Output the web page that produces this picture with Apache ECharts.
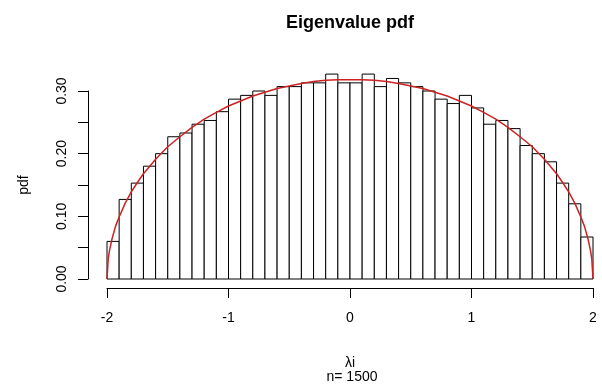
<!DOCTYPE html>
<html>
<head>
<meta charset="utf-8">
<script src="https://cdn.jsdelivr.net/npm/echarts@6/dist/echarts.min.js"></script>
<style>
  html, body { margin: 0; padding: 0; background: #fff; }
  #chart { width: 602px; height: 390px; }
</style>
</head>
<body>
<div id="chart"></div>
<script>
// histogram bin edges (width 0.1 from -2 to 2)
var breaks = [-2.0, -1.9, -1.8, -1.7, -1.6, -1.5, -1.4, -1.3, -1.2, -1.1,
  -1.0, -0.9, -0.8, -0.7, -0.6, -0.5, -0.4, -0.3, -0.2, -0.1,
  0.0, 0.1, 0.2, 0.3, 0.4, 0.5, 0.6, 0.7, 0.8, 0.9,
  1.0, 1.1, 1.2, 1.3, 1.4, 1.5, 1.6, 1.7, 1.8, 1.9, 2.0];

// bar heights (density)
var density = [0.060, 0.127, 0.153, 0.180, 0.200, 0.227, 0.233, 0.247, 0.253, 0.267,
  0.287, 0.293, 0.300, 0.293, 0.307, 0.307, 0.313, 0.313, 0.327, 0.313,
  0.313, 0.327, 0.307, 0.320, 0.313, 0.307, 0.300, 0.287, 0.280, 0.293,
  0.273, 0.247, 0.253, 0.240, 0.213, 0.200, 0.187, 0.153, 0.120, 0.067];

// red curve, points
var curveX = [-2.0, -1.99, -1.98, -1.96, -1.93, -1.9, -1.85, -1.8, -1.75, -1.7, -1.6, -1.5, -1.4, -1.3, -1.2, -1.1,
  -1.0, -0.9, -0.8, -0.7, -0.6, -0.5, -0.4, -0.3, -0.2, -0.1, 0.0,
  0.1, 0.2, 0.3, 0.4, 0.5, 0.6, 0.7, 0.8, 0.9, 1.0,
  1.1, 1.2, 1.3, 1.4, 1.5, 1.6, 1.7, 1.75, 1.8, 1.85, 1.9, 1.93, 1.96, 1.98, 1.99, 2.0];
var curveY = [0.000, 0.032, 0.045, 0.063, 0.084, 0.099, 0.121, 0.139, 0.154, 0.168, 0.191, 0.211, 0.227, 0.242, 0.255, 0.266,
  0.276, 0.284, 0.292, 0.298, 0.304, 0.308, 0.312, 0.315, 0.317, 0.318, 0.318,
  0.318, 0.317, 0.315, 0.312, 0.308, 0.304, 0.298, 0.292, 0.284, 0.276,
  0.266, 0.255, 0.242, 0.227, 0.211, 0.191, 0.168, 0.154, 0.139, 0.121, 0.099, 0.084, 0.063, 0.045, 0.032, 0.000];

var xTicks = [-2, -1, 0, 1, 2];

var font = 'Liberation Sans, Arial, Helvetica, sans-serif';

var bars = density.map(function (d, i) {
  return [breaks[i], breaks[i + 1], d];
});
var curve = curveX.map(function (x, i) {
  return [x, curveY[i]];
});

var chart = echarts.init(document.getElementById('chart'));

var option = {
  backgroundColor: '#fff',
  animation: false,
  textStyle: { fontFamily: font, color: '#000' },
  title: [
    {
      text: 'Eigenvalue pdf',
      left: 350,
      textAlign: 'center',
      top: 14,
      padding: 0,
      textStyle: { fontFamily: font, fontSize: 18, fontWeight: 'bold', color: '#000' }
    },
    {
      text: 'n= 1500',
      left: 352,
      textAlign: 'center',
      top: 370,
      padding: 0,
      textStyle: { fontFamily: font, fontSize: 14, fontWeight: 'normal', color: '#000' }
    }
  ],
  grid: {
    left: 107,
    right: 9,
    top: 91,
    bottom: 111,
    containLabel: false
  },
  xAxis: {
    type: 'value',
    min: -2,
    max: 2,
    interval: 1,
    offset: 9,
    name: 'λi',
    nameLocation: 'middle',
    nameGap: 68,
    nameTextStyle: { fontFamily: font, fontSize: 14, color: '#000' },
    axisLine: { show: true, onZero: false, lineStyle: { color: '#000', width: 1 } },
    axisTick: { show: true, length: 10, lineStyle: { color: '#000', width: 1 } },
    axisLabel: {
      color: '#000',
      fontSize: 14,
      fontFamily: font,
      margin: 23,
      formatter: function (v) { return xTicks.indexOf(v) >= 0 ? String(v) : ''; }
    },
    splitLine: { show: false }
  },
  yAxis: {
    type: 'value',
    min: 0,
    max: 0.30,
    interval: 0.05,
    offset: 19,
    name: 'pdf',
    nameLocation: 'middle',
    nameRotate: 90,
    nameGap: 57,
    nameTextStyle: { fontFamily: font, fontSize: 14, color: '#000' },
    axisLine: { show: true, onZero: false, lineStyle: { color: '#000', width: 1 } },
    axisTick: { show: true, length: 10, lineStyle: { color: '#000', width: 1 } },
    axisLabel: {
      color: '#000',
      fontSize: 14,
      fontFamily: font,
      rotate: 90,
      margin: 19,
      formatter: function (v) {
        return Math.round(v * 100) % 10 === 0 ? v.toFixed(2) : '';
      }
    },
    splitLine: { show: false }
  },
  series: [
    {
      type: 'custom',
      clip: false,
      data: bars,
      renderItem: function (params, api) {
        var topLeft = api.coord([api.value(0), api.value(2)]);
        var bottomRight = api.coord([api.value(1), 0]);
        return {
          type: 'rect',
          shape: {
            x: topLeft[0],
            y: topLeft[1],
            width: bottomRight[0] - topLeft[0],
            height: bottomRight[1] - topLeft[1]
          },
          style: { fill: '#fff', stroke: '#000', lineWidth: 1 }
        };
      },
      z: 2
    },
    {
      type: 'line',
      data: curve,
      clip: false,
      symbol: 'none',
      smooth: false,
      lineStyle: { color: '#cc2222', width: 1.5 },
      z: 3
    }
  ]
};

chart.setOption(option);
</script>
</body>
</html>
